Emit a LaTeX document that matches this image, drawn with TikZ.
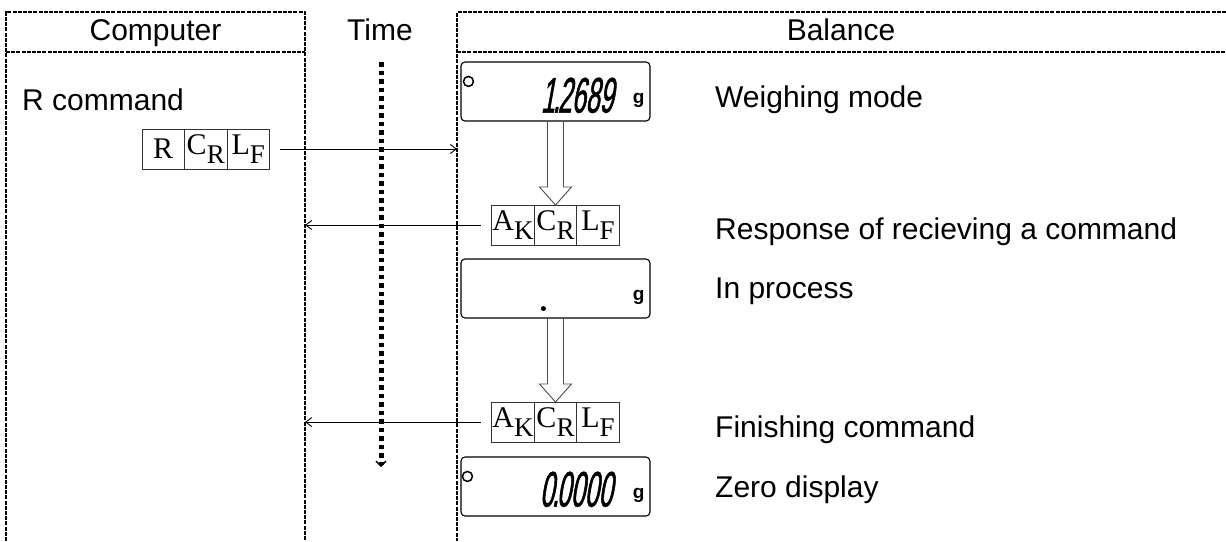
\documentclass[tikz,border=0pt]{standalone}
\usepackage{fontspec}
\setmainfont{Liberation Sans}
\newfontfamily\cellfont{Liberation Serif}
\newfontfamily\segfont[FakeStretch=0.5,FakeSlant=0.18,FakeBold=1]{Liberation Sans}
\usetikzlibrary{arrows.meta,positioning,calc}
\newcommand{\cellsub}[2]{#1\raisebox{-9pt}{\fontsize{27}{27}\selectfont #2}}
\tikzset{
  cell/.style={draw=black!80, line width=0.7pt, rectangle, minimum width=42.5pt,
               minimum height=40pt, inner sep=0pt, outer sep=0pt,
               font=\cellfont\fontsize{30}{30}\selectfont},
  disp/.style={draw, rectangle, rounded corners=4pt, line width=1.1pt,
               minimum width=189pt, minimum height=59pt, inner sep=0pt},
  lbl/.style={anchor=base west, inner sep=0pt, font=\fontsize{30}{36}\selectfont},
  hdr/.style={anchor=base, inner sep=0pt, font=\fontsize{30}{36}\selectfont},
  seg/.style={anchor=base east, inner sep=0pt, font=\segfont\fontsize{50}{50}\selectfont},
  unit/.style={anchor=base, inner sep=0pt, font=\bfseries\fontsize{19}{19}\selectfont},
  lamp/.style={draw, circle, line width=1.5pt, minimum size=10pt, inner sep=0pt},
  arr/.style={-{Straight Barb[length=6pt,width=9pt]}, line width=0.9pt},
  hol/.style={draw=black!70, line width=0.9pt},
  frame/.style={dash pattern=on 4pt off 1.2pt, line width=1.8pt},
  tline/.style={dash pattern=on 4.5pt off 4pt, line width=5pt,
                -{Straight Barb[length=5pt,width=10pt,line width=1.3pt]}}
}

\begin{document}
\begin{tikzpicture}[x=1pt, y=-1pt]
  \useasboundingbox (0,0) rectangle (1226,541);
  % frames
  \draw[frame] (6,541) -- (6,12) -- (305,12) -- (305,541);
  \draw[frame] (6,52) -- (305,52);
  \draw[frame] (1226,12) -- (457,12) -- (457,541);
  \draw[frame] (457,52) -- (1226,52);
  \coordinate (lb) at (305,52);
  \coordinate (rb) at (457,52);

  \node[hdr] (comp) at (155.5,40) {Computer};
  \node[hdr] (time) at (380,40) {Time};
  \node[hdr] (bal)  at (841,40) {Balance};

  % computer side
  \node[lbl] (rcmd) at (22,110) {R command};
  \node[cell] (r) at (163.25,149) {R};
  \node[cell, right=0pt of r] (rcr) {\cellsub{C}{R}};
  \node[cell, right=0pt of rcr] (rlf) {\cellsub{L}{F}};

  % balance side
  \node[disp] (d1) at (555.5,91.5) {};
  \node[lamp] (o1) at ($(d1.north west)+(8,20)$) {};
  \node[seg] (w1) at ($(d1.south east)+(-37,-9)$) {1\kern-2pt.\kern-2pt2689};
  \node[unit] (g1) at ($(d1.south east)+(-12,-18)$) {g};
  \node[lbl] (wm) at (715,107) {Weighing mode};

  \node[cell] (acr) at (555.5,225) {\cellsub{C}{R}};
  \node[cell, left=0pt of acr] (aak) {\cellsub{A}{K}};
  \node[cell, right=0pt of acr] (alf) {\cellsub{L}{F}};
  \node[lbl] (resp) at (715,239) {Response of recieving a command};

  \node[disp] (d2) at (555.5,288.5) {};
  \node[circle, fill, inner sep=0pt, minimum size=5pt] (p2) at ($(d2.south west)+(83,-10)$) {};
  \node[unit] (g2) at ($(d2.south east)+(-12,-18)$) {g};
  \node[lbl] (proc) at (715,298) {In process};

  \node[cell] (bcr) at (555.5,422) {\cellsub{C}{R}};
  \node[cell, left=0pt of bcr] (bak) {\cellsub{A}{K}};
  \node[cell, right=0pt of bcr] (blf) {\cellsub{L}{F}};
  \node[lbl] (fin) at (715,437) {Finishing command};

  \node[disp] (d3) at (555.5,486.5) {};
  \node[lamp] (o3) at ($(d3.north west)+(7,20)$) {};
  \node[seg] (w3) at ($(d3.south east)+(-38,-10)$) {0\kern-2pt.\kern-2pt0000};
  \node[unit] (g3) at ($(d3.south east)+(-12,-18)$) {g};
  \node[lbl] (zero) at (715,497) {Zero display};

  % hollow arrows
  \foreach \a/\b in {d1/acr, d2/bcr}
    \draw[hol] ($(\a.south)+(-8,0)$) -- ($(\b.north)+(-8,-18)$) -- ($(\b.north)+(-16,-18)$)
      -- (\b.north) -- ($(\b.north)+(16,-18)$) -- ($(\b.north)+(8,-18)$) -- ($(\a.south)+(8,0)$);

  % messages
  \draw[arr, shorten <=10pt] (rlf.east) -- (rlf.east -| rb);
  \draw[arr, shorten <=11pt] (aak.west) -- (aak.west -| lb);
  \draw[arr, shorten <=11pt] (bak.west) -- (bak.west -| lb);

  % time
  \coordinate (t0) at (381,62);
  \coordinate (t1) at (381,467);
  \draw[tline] (t0) -- (t1);
\end{tikzpicture}
\end{document}
